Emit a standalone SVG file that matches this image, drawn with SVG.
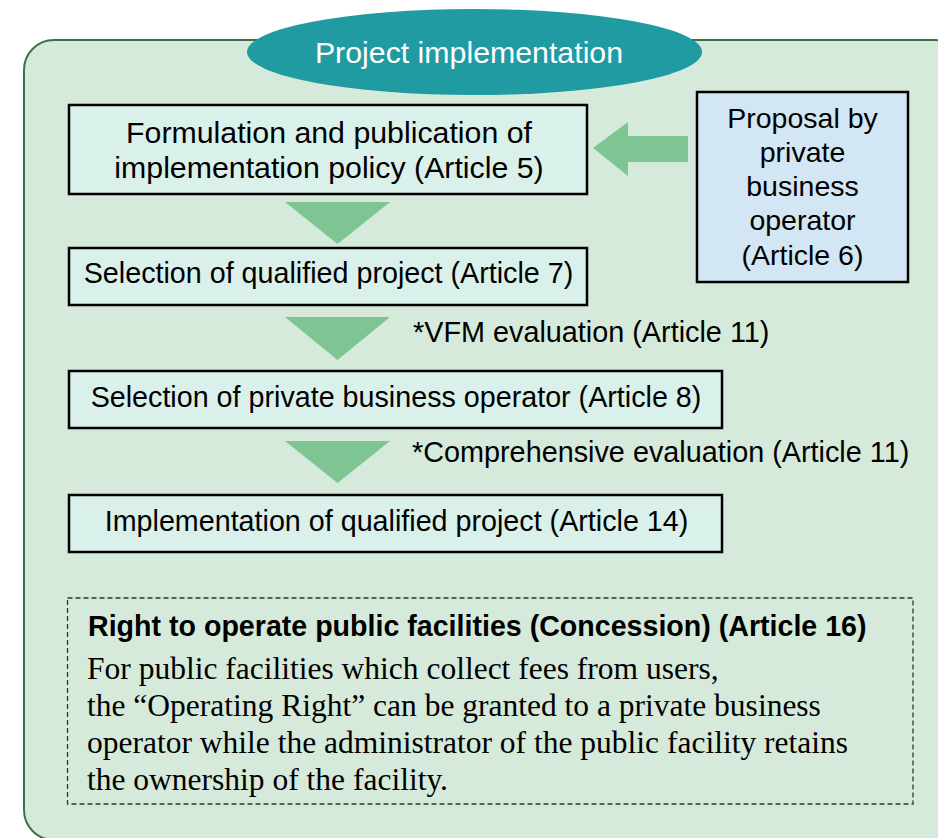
<svg xmlns="http://www.w3.org/2000/svg" width="938" height="838" viewBox="0 0 938 838">
  <style>
    .box { fill: #daf0ea; stroke: #000; stroke-width: 2.5; }
    .prop { fill: #d3e6f4; stroke: #000; stroke-width: 2.5; }
    .sans { font-family: "Liberation Sans", Arial, sans-serif; fill: #000; }
    .serif { font-family: "Liberation Serif", "Times New Roman", serif; fill: #000; font-size: 31.5px; }
    .flow { fill: #7ec593; }
    .c { text-anchor: middle; }
  </style>
  <rect x="0" y="0" width="938" height="838" fill="#ffffff"/>
  <g id="frame">
    <rect x="24" y="40" width="940" height="800" rx="30" ry="30" fill="#d5eadb" stroke="#3f7045" stroke-width="2"/>
  </g>
  <g id="title">
    <ellipse cx="474.5" cy="52" rx="227.5" ry="43" fill="#1f9ba1"/>
    <text class="sans c" x="469" y="63" font-size="30.3" style="fill:#ffffff">Project implementation</text>
  </g>
  <g id="connectors">
    <polygon class="flow" points="285,202 390,202 337.5,244"/>
    <polygon class="flow" points="285,317 390,317 337.5,360"/>
    <polygon class="flow" points="285,441 390,441 337.5,483"/>
    <polygon class="flow" points="593,148 628,122 628,136 688,136 688,162 628,162 628,176"/>
  </g>
  <g id="policy">
    <rect class="box" x="69" y="105" width="518" height="89"/>
    <text class="sans c" x="329" y="143" font-size="30.3">Formulation and publication of</text>
    <text class="sans c" x="329" y="178" font-size="30.3">implementation policy (Article 5)</text>
  </g>
  <g id="proposal">
    <rect class="prop" x="697" y="92" width="211" height="190"/>
    <text class="sans c" x="802.5" y="128" font-size="28.5">Proposal by</text>
    <text class="sans c" x="802.5" y="162" font-size="28.5">private</text>
    <text class="sans c" x="802.5" y="196" font-size="28.5">business</text>
    <text class="sans c" x="802.5" y="230" font-size="28.5">operator</text>
    <text class="sans c" x="802.5" y="265" font-size="28.5">(Article 6)</text>
  </g>
  <g id="qualified">
    <rect class="box" x="69" y="248" width="518" height="57"/>
    <text class="sans c" x="328.5" y="283" font-size="28.7">Selection of qualified project (Article 7)</text>
  </g>
  <g id="vfm">
    <text class="sans" x="413" y="342" font-size="28.8">*VFM evaluation (Article 11)</text>
  </g>
  <g id="operator">
    <rect class="box" x="69" y="371" width="653" height="57"/>
    <text class="sans c" x="396" y="407" font-size="28.7">Selection of private business operator (Article 8)</text>
  </g>
  <g id="comprehensive">
    <text class="sans" x="412" y="462" font-size="28.8">*Comprehensive evaluation (Article 11)</text>
  </g>
  <g id="implementation">
    <rect class="box" x="69" y="495" width="653" height="57"/>
    <text class="sans c" x="396.5" y="531" font-size="28.7">Implementation of qualified project (Article 14)</text>
  </g>
  <g id="concession">
    <rect x="67.5" y="598" width="845.5" height="206" fill="none" stroke="#333" stroke-width="1.3" stroke-dasharray="5 3"/>
    <text class="sans" x="88" y="636" font-size="28.6" font-weight="bold">Right to operate public facilities (Concession) (Article 16)</text>
    <text class="serif" x="87" y="679">For public facilities which collect fees from users,</text>
    <text class="serif" x="87" y="716">the “Operating Right” can be granted to a private business</text>
    <text class="serif" x="87" y="753">operator while the administrator of the public facility retains</text>
    <text class="serif" x="87" y="790">the ownership of the facility.</text>
  </g>
</svg>
